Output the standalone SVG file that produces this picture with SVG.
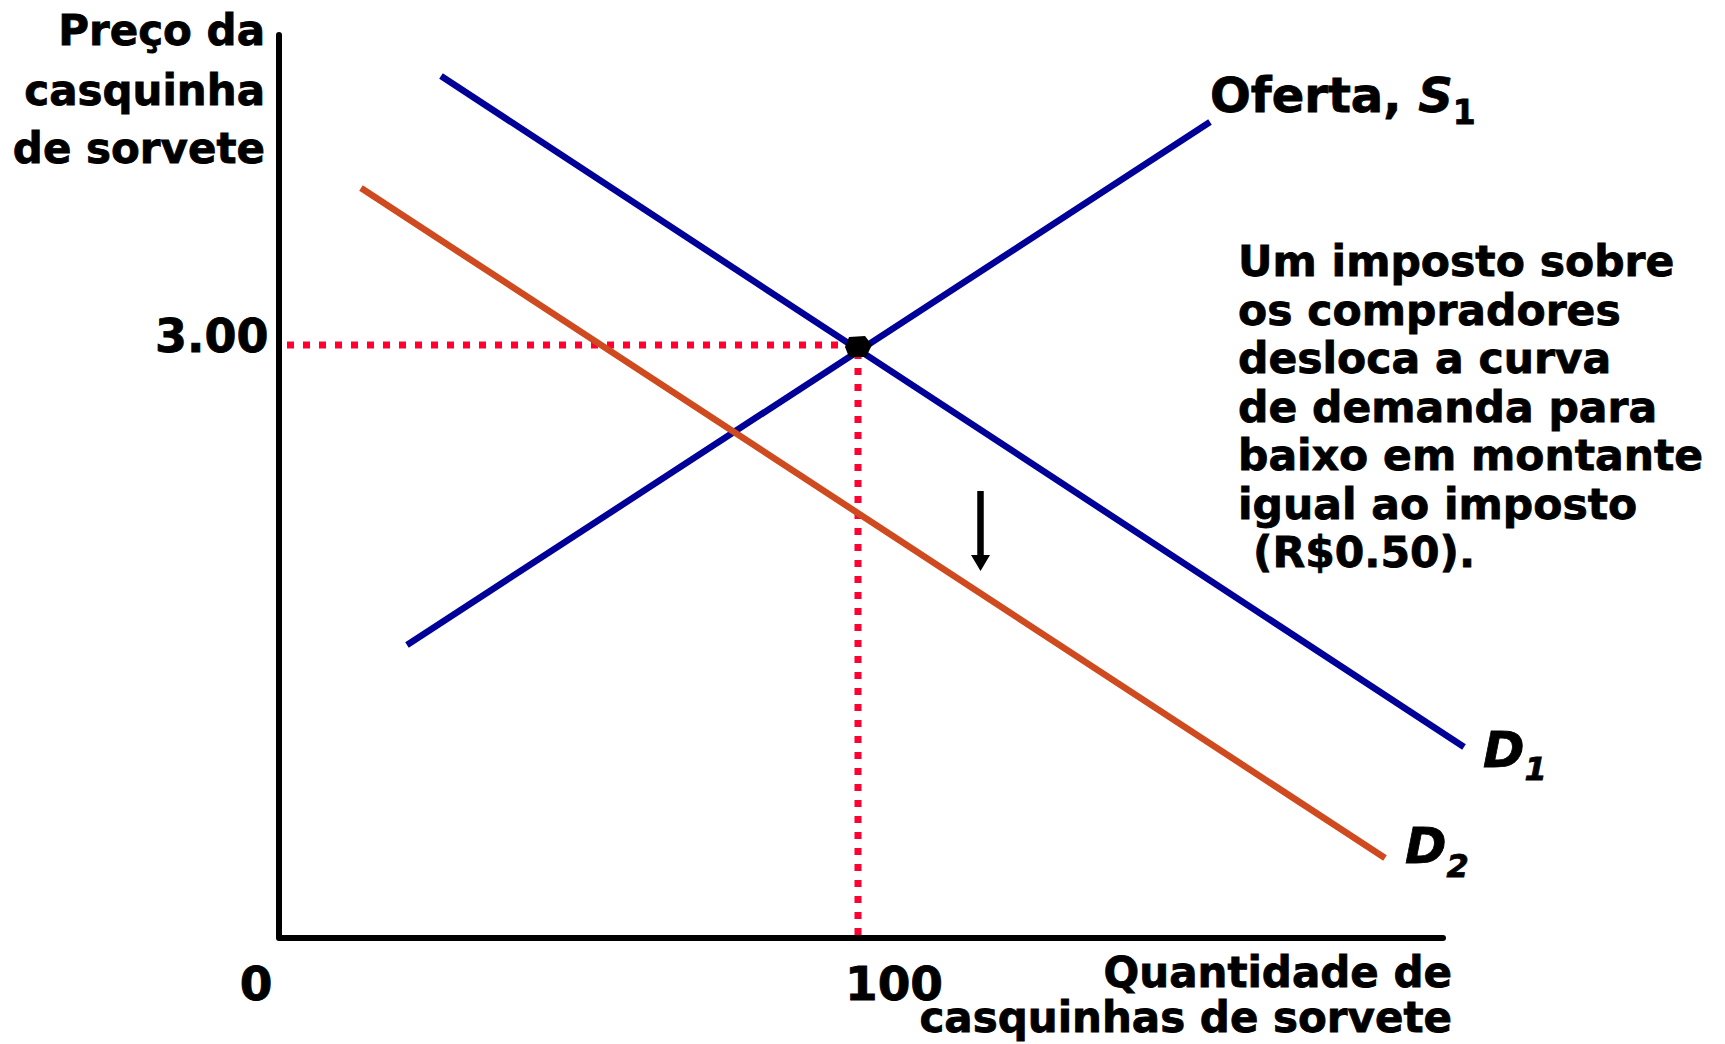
<svg xmlns="http://www.w3.org/2000/svg" width="1725" height="1044" viewBox="0 0 1725 1044">
<style>
.t{font-family:"DejaVu Sans","Verdana",sans-serif;font-weight:bold;fill:#000;stroke:#000;stroke-width:0.8}
.it{font-style:italic}
.ax{stroke:#000;stroke-width:6;fill:none;stroke-linecap:round;stroke-linejoin:round}
.blue{stroke:#000099;stroke-width:6.5;fill:none}
.orange{stroke:#CF4A1F;stroke-width:6.5;fill:none}
.dot{stroke:#FF0033;stroke-width:7;stroke-dasharray:7 9;fill:none}
</style>
<rect width="1725" height="1044" fill="#fff"/>
<g id="axes">
<path class="ax" d="M279 35 L279 938 L1443 938"/>
</g>
<g id="connectors">
<line class="dot" x1="287" y1="345" x2="852" y2="345"/>
<line class="dot" x1="858" y1="352" x2="858" y2="936"/>
<line id="supply" class="blue" x1="407" y1="645" x2="1210" y2="122"/>
<line id="d1" class="blue" x1="441" y1="76" x2="1464" y2="747"/>
<line id="d2" class="orange" x1="361" y1="188" x2="1385" y2="858"/>
<line x1="980.5" y1="491" x2="980.5" y2="557" stroke="#000" stroke-width="6.5"/>
<polygon points="971,555 990,555 980.5,571" fill="#000"/>
</g>
<g id="equilibrium">
<polygon points="849,337 865,336 872,345 866,357 849,357 845,347" fill="#000"/>
</g>
<g id="y-label">
<text class="t" font-size="42" text-anchor="end" x="265" y="45">Preço da</text>
<text class="t" font-size="42" text-anchor="end" x="265" y="105">casquinha</text>
<text class="t" font-size="42" text-anchor="end" x="265" y="163">de sorvete</text>
</g>
<g id="price-label">
<text class="t" font-size="46" x="155" y="352">3.00</text>
</g>
<g id="x-labels">
<text class="t" font-size="47" text-anchor="middle" x="256" y="1000">0</text>
<text class="t" font-size="47" text-anchor="middle" x="894" y="1000">100</text>
<text class="t" font-size="42" text-anchor="end" x="1452" y="987">Quantidade de</text>
<text class="t" font-size="42" text-anchor="end" x="1452" y="1032">casquinhas de sorvete</text>
</g>
<g id="supply-label">
<text class="t" font-size="48" x="1210" y="112">Oferta, <tspan class="it">S</tspan><tspan font-size="33" dy="12">1</tspan></text>
</g>
<g id="d1-label">
<text class="t it" font-size="50" x="1483" y="767">D<tspan font-size="32" dy="13">1</tspan></text>
</g>
<g id="d2-label">
<text class="t it" font-size="50" x="1405" y="863">D<tspan font-size="32" dy="14">2</tspan></text>
</g>
<g id="note">
<text class="t" font-size="42.5" x="1238" y="276">Um imposto sobre</text>
<text class="t" font-size="42.5" x="1238" y="324.5">os compradores</text>
<text class="t" font-size="42.5" x="1238" y="373">desloca a curva</text>
<text class="t" font-size="42.5" x="1238" y="421.5">de demanda para</text>
<text class="t" font-size="42.5" x="1238" y="470">baixo em montante</text>
<text class="t" font-size="42.5" x="1238" y="518.5">igual ao imposto</text>
<text class="t" font-size="42.5" x="1253" y="567">(R$0.50).</text>
</g>
</svg>
